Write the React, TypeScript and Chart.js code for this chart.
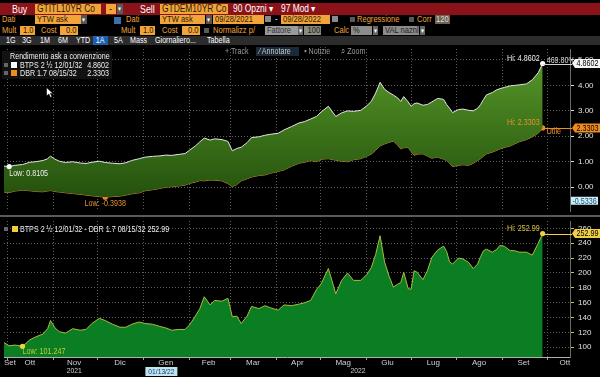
import React, { useEffect, useRef } from 'react';
import { Chart, registerables } from 'chart.js';

Chart.register(...registerables);

const FONT = "'Liberation Sans Narrow', 'Liberation Sans', Arial, sans-serif";
const SX = 0.84;

// ---- data (x = days since 09/28/2021) ----
const dayOffsets = [
  0, 4, 8, 13, 18, 22, 27, 30, 32, 35,
  38, 42, 47, 52, 56, 60, 65, 69, 74, 79,
  83, 87, 92, 96, 101, 106, 110, 114, 119, 123,
  126, 130, 133, 136, 140, 143, 148, 152, 155, 158,
  161, 165, 168, 173, 177, 181, 186, 190, 195, 200,
  204, 208, 212, 215, 220, 225, 229, 233, 237, 242,
  246, 249, 252, 255, 258, 261, 264, 267, 269, 271,
  274, 276, 278, 280, 284, 287, 290, 294, 298, 300,
  302, 304, 308, 311, 315, 318, 321, 323, 325, 327,
  331, 334, 336, 339, 343, 346, 349, 354, 358, 362,
  365,
];

const btpsYield = [
  0.83, 0.8105, 0.86, 0.89, 0.98, 1.0, 1.05, 1.12, 1.22, 1.1,
  1.02, 0.97, 1.0, 0.95, 0.93, 0.98, 1.02, 0.97, 0.94, 0.92,
  0.96, 1.05, 1.12, 1.18, 1.21, 1.23, 1.26, 1.25, 1.29, 1.32,
  1.45, 1.62, 1.78, 1.93, 1.85, 1.9, 1.87, 1.8, 1.43, 1.52,
  1.57, 1.75, 1.95, 1.98, 2.04, 2.08, 2.12, 2.25, 2.38, 2.52,
  2.58, 2.68, 2.78, 2.95, 3.18, 2.78, 2.92, 3.0, 2.98, 3.02,
  3.2, 3.37, 3.7, 4.12, 3.85, 3.72, 3.62, 3.5, 3.37, 3.56,
  3.35, 3.18, 3.28, 3.31, 3.22, 3.25, 3.35, 3.49, 3.45, 3.25,
  3.1, 2.93, 3.05, 3.07, 3.02, 3.0, 3.1, 3.25, 3.45, 3.63,
  3.72, 3.83, 3.87, 3.92, 3.98, 4.0, 4.02, 4.06, 4.22, 4.5,
  4.8602,
];

const dbrYield = [
  -0.19, -0.21, -0.15, -0.12, -0.14, -0.17, -0.18, -0.15, -0.13, -0.17,
  -0.19, -0.22, -0.25, -0.28, -0.31, -0.34, -0.37, -0.3938, -0.37, -0.35,
  -0.31, -0.26, -0.22, -0.14, -0.1, -0.05, 0.0, 0.02, 0.05, 0.08,
  0.15, 0.2, 0.26, 0.25, 0.28, 0.27, 0.25, 0.14, 0.02, 0.1,
  0.25, 0.33, 0.4, 0.46, 0.48, 0.55, 0.62, 0.68, 0.82, 0.94,
  0.98, 1.05, 1.0, 1.1, 1.12, 1.06, 1.02, 1.0, 1.08, 1.12,
  1.22, 1.3, 1.45, 1.62, 1.7, 1.76, 1.81, 1.65, 1.5, 1.55,
  1.56, 1.4, 1.25, 1.3, 1.31, 1.22, 1.14, 1.18, 1.1, 1.05,
  0.95, 0.81, 0.86, 0.88, 0.86, 0.94, 1.05, 1.12, 1.22, 1.31,
  1.38, 1.45, 1.5, 1.56, 1.62, 1.7, 1.78, 1.87, 1.98, 2.12,
  2.3303,
];

const spreadBp = [
  107, 102, 103, 101.247, 110, 114, 118, 125, 136, 126,
  121, 119, 125, 123, 124, 132, 139, 136, 131, 127,
  127, 131, 134, 132, 131, 128, 126, 123, 124, 124,
  130, 142, 152, 168, 157, 163, 162, 166, 141, 142,
  132, 142, 155, 152, 156, 153, 150, 157, 156, 158,
  160, 163, 178, 185, 206, 172, 190, 200, 190, 190,
  198, 207, 225, 250, 215, 196, 181, 185, 187, 201,
  179, 178, 203, 201, 191, 203, 221, 231, 236, 229,
  215, 212, 220, 219, 214, 206, 212, 222, 230, 232,
  228, 232, 237, 236, 230, 230, 228, 228, 224, 240,
  252.99,
];

const monthStartDays = [3, 34, 64, 95, 126, 154, 185, 215, 246, 276, 307, 338, 368];
const monthLabelDays = [4.5, 18, 48, 79, 110, 139, 169, 199, 230, 260, 291, 322, 352, 380];
const monthLabels = ['Set', 'Ott', 'Nov', 'Dic', 'Gen', 'Feb', 'Mar', 'Apr', 'Mag', 'Giu', 'Lug', 'Ago', 'Set', 'Ott'];
const yearLabels = ['2021', '2022'];
const yearLabelDays = [48, 240];
const topTicks = [0, 1, 2, 3, 4, 5];
const bottomTicks = [100, 120, 140, 160, 180, 200, 220, 240, 260];
const crosshairDay = 107;
const crosshairDateText = '01/13/22';
const crosshairValue = -0.5336;
const btpsChangeText = '469.80%';
const dbrNoteText = 'Utile';

const X_MIN = 0.5;
const X_MAX = 383.5;
const TOP_MIN = -0.9363;
const TOP_MAX = 5.4307;
const BOT_MIN = 86.93;
const BOT_MAX = 269.93;

const GRID = '#5e5e5e';
const ORANGE = '#f08c1e';
const ORANGE_T = '#e8922e';
const YELLOW = '#f0d040';
const WHITE_T = '#eeeeee';

function argmin(a: number[]) {
  let k = 0;
  a.forEach((v, i) => { if (v < a[k]) k = i; });
  return k;
}
function argmax(a: number[]) {
  let k = 0;
  a.forEach((v, i) => { if (v > a[k]) k = i; });
  return k;
}

const xTickValues = [...monthStartDays, ...monthLabelDays].sort((a, b) => a - b);
const isMonthStart = (v: any) => monthStartDays.indexOf(v) >= 0;

function xScale(showLabels: boolean) {
  return {
    type: 'linear',
    min: X_MIN,
    max: X_MAX,
    afterBuildTicks: (s: any) => { s.ticks = xTickValues.map((v) => ({ value: v })); },
    afterFit: (s: any) => { s.height = showLabels ? 20 : 0; s.paddingLeft = 0; s.paddingRight = 0; },
    ticks: {
      display: showLabels,
      autoSkip: false,
      maxRotation: 0,
      color: '#d0d0d0',
      font: { family: FONT, size: 8, lineHeight: 1 },
      padding: -1,
      callback: (v: any) => {
        const i = monthLabelDays.indexOf(v);
        return i >= 0 ? monthLabels[i] : '';
      },
    },
    grid: {
      color: (c: any) => (isMonthStart(c.tick?.value) ? GRID : 'rgba(0,0,0,0)'),
      drawTicks: showLabels,
      tickLength: 3,
      tickColor: (c: any) => (isMonthStart(c.tick?.value) ? '#a0a0a0' : 'rgba(0,0,0,0)'),
      tickBorderDash: [],
    },
    border: { display: showLabels, color: '#b0b0b0', dash: [1, 2] },
  };
}

function yScale(min: number, max: number, ticks: number[], digits: number, tickColor: string) {
  return {
    position: 'right',
    min,
    max,
    afterBuildTicks: (s: any) => { s.ticks = ticks.map((v) => ({ value: v })); },
    afterFit: (s: any) => { s.width = 30; s.paddingTop = 0; s.paddingBottom = 0; },
    ticks: {
      color: '#e0e0e0',
      padding: 4,
      font: { family: FONT, size: 8 },
      callback: (v: any) => Number(v).toFixed(digits),
    },
    grid: { color: GRID, tickColor, tickLength: 4, tickBorderDash: [] },
    border: { color: '#6a6a6a', dash: [1, 2] },
  };
}

function markerRadius(arr: number[]) {
  const lo = argmin(arr);
  const hi = argmax(arr);
  return (c: any) => (c.dataIndex === lo || c.dataIndex === hi ? 2.6 : 0);
}

// condensed canvas text
function ctext(ctx: CanvasRenderingContext2D, t: string, x: number, y: number, align: CanvasTextAlign, color: string) {
  ctx.save();
  ctx.translate(x, y);
  ctx.scale(SX, 1);
  ctx.textAlign = align;
  ctx.fillStyle = color;
  ctx.fillText(t, 0, 0);
  ctx.restore();
}

function valueBox(ctx: CanvasRenderingContext2D, x: number, y: number, text: string, bg: string, fg: string) {
  const h = 9;
  const w = 28;
  ctx.fillStyle = bg;
  ctx.beginPath();
  ctx.moveTo(x, y);
  ctx.lineTo(x + 3, y - h / 2);
  ctx.lineTo(x + w, y - h / 2);
  ctx.lineTo(x + w, y + h / 2);
  ctx.lineTo(x + 3, y + h / 2);
  ctx.closePath();
  ctx.fill();
  ctext(ctx, text, x + 3 + (w - 3) / 2, y + 0.5, 'center', fg);
}

function leader(ctx: CanvasRenderingContext2D, x1: number, y: number, x2: number, color: string) {
  ctx.strokeStyle = color;
  ctx.lineWidth = 1;
  ctx.beginPath();
  ctx.moveTo(x1, Math.round(y) + 0.5);
  ctx.lineTo(x2, Math.round(y) + 0.5);
  ctx.stroke();
}

const topAnnotations = {
  id: 'topAnnotations',
  afterDraw(chart: any) {
    const { ctx, chartArea } = chart;
    const b = chart.getDatasetMeta(0).data;
    const d = chart.getDatasetMeta(1).data;
    const loB = argmin(btpsYield);
    const loD = argmin(dbrYield);
    const hiB = argmax(btpsYield);
    const hiD = argmax(dbrYield);
    const ax = chartArea.right;
    ctx.save();
    ctx.font = `8.5px ${FONT}`;
    ctx.textBaseline = 'middle';
    ctext(ctx, `Low: ${btpsYield[loB].toFixed(4)}`, b[loB].x, b[loB].y + 7, 'left', WHITE_T);
    ctext(ctx, `Low: ${dbrYield[loD].toFixed(4)}`, d[loD].x, d[loD].y + 6, 'center', ORANGE_T);
    leader(ctx, b[hiB].x, b[hiB].y, ax + 2, '#d0d0d0');
    leader(ctx, d[hiD].x, d[hiD].y, ax + 2, ORANGE);
    ctext(ctx, `Hi: ${btpsYield[hiB].toFixed(4)}`, b[hiB].x - 3, b[hiB].y - 5, 'right', WHITE_T);
    ctext(ctx, `Hi: ${dbrYield[hiD].toFixed(4)}`, d[hiD].x - 3, d[hiD].y - 5, 'right', ORANGE_T);
    ctext(ctx, btpsChangeText, b[hiB].x + 4, b[hiB].y - 3, 'left', '#d8d8d8');
    ctext(ctx, dbrNoteText, d[hiD].x + 4, d[hiD].y + 4, 'left', ORANGE_T);
    valueBox(ctx, ax + 2, b[hiB].y, btpsYield[hiB].toFixed(4), '#f4f4f4', '#000');
    valueBox(ctx, ax + 2, d[hiD].y, dbrYield[hiD].toFixed(4), ORANGE, '#000');
    const yc = chart.scales.y.getPixelForValue(crosshairValue);
    ctx.fillStyle = '#cdeef6';
    ctx.fillRect(ax + 1, yc - 4, 27, 8);
    ctext(ctx, crosshairValue.toFixed(4), ax + 14.5, yc + 0.5, 'center', '#14507c');
    ctx.restore();
  },
};

const bottomAnnotations = {
  id: 'bottomAnnotations',
  afterDraw(chart: any) {
    const { ctx, chartArea } = chart;
    const s = chart.getDatasetMeta(0).data;
    const lo = argmin(spreadBp);
    const hi = argmax(spreadBp);
    const ax = chartArea.right;
    const xs = chart.scales.x;
    ctx.save();
    ctx.font = `8.5px ${FONT}`;
    ctx.textBaseline = 'middle';
    ctext(ctx, `Low: ${spreadBp[lo].toFixed(3)}`, s[lo].x, s[lo].y + 5, 'left', '#c4c83c');
    leader(ctx, s[hi].x, s[hi].y, ax + 2, YELLOW);
    ctext(ctx, `Hi: ${spreadBp[hi].toFixed(2)}`, s[hi].x - 3, s[hi].y - 5, 'right', '#d8c03c');
    valueBox(ctx, ax + 2, s[hi].y, spreadBp[hi].toFixed(2), YELLOW, '#000');
    ctx.font = `8px ${FONT}`;
    yearLabels.forEach((t, i) => ctext(ctx, t, xs.getPixelForValue(yearLabelDays[i]), 154, 'center', '#d0d0d0'));
    const cx = xs.getPixelForValue(crosshairDay);
    ctx.fillStyle = '#bfe4ef';
    ctx.fillRect(cx - 16, 150, 32, 9);
    ctext(ctx, crosshairDateText, cx, 154.5, 'center', '#1b3f73');
    ctx.restore();
  },
};

function topFill(c: any) {
  const { chart } = c;
  const area = chart.chartArea;
  if (!area) return '#3a7a1a';
  const g = chart.ctx.createLinearGradient(0, area.top, 0, area.bottom);
  g.addColorStop(0, '#5a9c2a');
  g.addColorStop(1, '#1f4a0b');
  return g;
}

function topConfig(): any {
  return {
    type: 'line',
    data: {
      datasets: [
        {
          label: 'BTPS 2 ½ 12/01/32',
          data: dayOffsets.map((x, i) => ({ x, y: btpsYield[i] })),
          borderColor: '#e4e4e4',
          borderWidth: 1,
          fill: '+1',
          backgroundColor: topFill,
          pointRadius: markerRadius(btpsYield),
          pointBackgroundColor: '#ffffff',
          pointBorderWidth: 0,
          tension: 0,
        },
        {
          label: 'DBR 1.7 08/15/32',
          data: dayOffsets.map((x, i) => ({ x, y: dbrYield[i] })),
          borderColor: '#c98c30',
          borderWidth: 1,
          fill: false,
          pointRadius: markerRadius(dbrYield),
          pointBackgroundColor: ORANGE,
          pointBorderWidth: 0,
          tension: 0,
        },
      ],
    },
    options: {
      responsive: false,
      animation: false,
      devicePixelRatio: 1,
      events: [],
      layout: { padding: 0 },
      plugins: { legend: { display: false }, tooltip: { enabled: false } },
      scales: {
        x: xScale(false),
        y: yScale(TOP_MIN, TOP_MAX, topTicks, 2, '#dddddd'),
      },
    },
    plugins: [topAnnotations],
  };
}

function bottomConfig(): any {
  return {
    type: 'line',
    data: {
      datasets: [
        {
          label: 'BTPS 2 ½ 12/01/32 - DBR 1.7 08/15/32',
          data: dayOffsets.map((x, i) => ({ x, y: spreadBp[i] })),
          borderColor: '#aebc3c',
          borderWidth: 1,
          fill: 'start',
          backgroundColor: '#0b7d22',
          pointRadius: markerRadius(spreadBp),
          pointBackgroundColor: YELLOW,
          pointBorderWidth: 0,
          tension: 0,
        },
      ],
    },
    options: {
      responsive: false,
      animation: false,
      devicePixelRatio: 1,
      events: [],
      layout: { padding: 0 },
      plugins: { legend: { display: false }, tooltip: { enabled: false } },
      scales: {
        x: xScale(true),
        y: yScale(BOT_MIN, BOT_MAX, bottomTicks, 0, '#d6c23c'),
      },
    },
    plugins: [bottomAnnotations],
  };
}

type BProps = {
  x: number; y: number; w?: number; h: number; bg?: string; color?: string;
  size?: number; align?: 'left' | 'center' | 'right'; pad?: number; children?: React.ReactNode;
};
function B({ x, y, w, h, bg, color = '#ffffff', size = 9, align = 'left', pad = 0, children }: BProps) {
  return (
    <div
      style={{
        position: 'absolute', left: x, top: y, width: w, height: h, background: bg, color,
        fontSize: size, lineHeight: `${h}px`, textAlign: align, whiteSpace: 'nowrap',
        overflow: w ? 'hidden' : 'visible', paddingLeft: pad, paddingRight: align === 'right' ? 1 : 0,
        boxSizing: 'border-box', fontFamily: FONT,
      }}
    >
      <span style={{ display: 'inline-block', transform: `scaleX(${SX})`, transformOrigin: align }}>{children}</span>
    </div>
  );
}

const OB = '#f2a33a';
const OBT = '#2b1a05';
const OT = '#f0a33a';
const GB = '#8c8c8c';

function Sq({ x, y, s, c }: { x: number; y: number; s: number; c: string }) {
  return <div style={{ position: 'absolute', left: x, top: y, width: s, height: s, background: c }} />;
}

export default function App() {
  const topRef = useRef<HTMLCanvasElement>(null);
  const botRef = useRef<HTMLCanvasElement>(null);

  useEffect(() => {
    const top = new Chart(topRef.current as HTMLCanvasElement, topConfig());
    const bot = new Chart(botRef.current as HTMLCanvasElement, bottomConfig());
    return () => {
      top.destroy();
      bot.destroy();
    };
  }, []);

  return (
    <div style={{ position: 'fixed', left: 0, top: 0, width: 600, height: 377, background: '#000', overflow: 'hidden', fontFamily: FONT }}>
      <canvas ref={topRef} width={600} height={170} style={{ position: 'absolute', left: 0, top: 45 }} />
      <div style={{ position: 'absolute', left: 0, top: 215, width: 600, height: 2, background: '#5a5a5a' }} />
      <canvas ref={botRef} width={600} height={160} style={{ position: 'absolute', left: 0, top: 217 }} />

      {/* row 1 */}
      <div style={{ position: 'absolute', left: 0, top: 3, width: 600, height: 12, background: '#8c121a' }} />
      <B x={12} y={3} h={12} size={10.5}>Buy</B>
      <B x={35} y={4} w={66} h={10} bg={OB} color={OBT} size={10} pad={2}>GTITL10YR Co</B>
      <B x={106} y={4} w={10} h={10} bg={OB} color={OBT} size={10} align="center">-</B>
      <B x={117} y={4} w={6} h={10} bg="#5a5a5a" size={7} align="center">▾</B>
      <B x={140} y={3} h={12} size={10.5}>Sell</B>
      <B x={160} y={4} w={68} h={10} bg={OB} color={OBT} size={10} pad={2}>GTDEM10YR Co</B>
      <B x={233} y={3} h={12} size={10}>90 Opzni ▾</B>
      <B x={281} y={3} h={12} size={10}>97 Mod ▾</B>

      {/* row 2 */}
      <B x={2} y={15} h={9} color={OT}>Dati</B>
      <B x={35} y={15} w={46} h={9} bg={OB} color={OBT} pad={2}>YTW ask</B>
      <B x={81} y={15} w={6} h={9} bg="#555" size={7} align="center">▾</B>
      <Sq x={114} y={17} s={7} c="#3a6fb0" />
      <B x={126} y={15} h={9} color={OT}>Dati</B>
      <B x={160} y={15} w={45} h={9} bg={OB} color={OBT} pad={2}>YTW ask</B>
      <B x={206} y={15} w={6} h={9} bg="#555" size={7} align="center">▾</B>
      <B x={213} y={15} w={51} h={9} bg={OB} color={OBT} pad={2}>09/28/2021</B>
      <Sq x={265} y={16} s={6} c="#8a8a8a" />
      <B x={275} y={15} h={9}>-</B>
      <B x={281} y={15} w={49} h={9} bg={OB} color={OBT} pad={2}>09/28/2022</B>
      <Sq x={332} y={16} s={6} c="#8a8a8a" />
      <Sq x={350} y={17} s={5} c="#5a5a5a" />
      <B x={357} y={15} h={9} color={OT}>Regressione</B>
      <Sq x={409} y={17} s={5} c="#5a5a5a" />
      <B x={417} y={15} h={9} color={OT}>Corr</B>
      <B x={435} y={15} w={15} h={9} bg="#6f6350" color="#dddddd" pad={1}>120</B>

      {/* row 3 */}
      <B x={2} y={25.5} h={9} color={OT}>Mult</B>
      <B x={20} y={25.5} w={15} h={9} bg={OB} color={OBT} align="right">1.0</B>
      <B x={41} y={25.5} h={9} color={OT}>Cost</B>
      <B x={60} y={25.5} w={18} h={9} bg={OB} color={OBT} align="right">0.0</B>
      <B x={121} y={25.5} h={9} color={OT}>Mult</B>
      <B x={140} y={25.5} w={15} h={9} bg={OB} color={OBT} align="right">1.0</B>
      <B x={162} y={25.5} h={9} color={OT}>Cost</B>
      <B x={182} y={25.5} w={18} h={9} bg={OB} color={OBT} align="right">0.0</B>
      <Sq x={204} y={27.5} s={5} c="#5a5a5a" />
      <B x={213} y={25.5} h={9} color={OT}>Normalizz p/</B>
      <B x={265} y={25.5} w={33} h={9} bg="#9a9a9a" color="#333" pad={2}>Fattore</B>
      <B x={298} y={25.5} w={5} h={9} bg="#666" size={7} align="center">▾</B>
      <B x={304} y={25.5} w={17} h={9} bg="#8b8b80" color="#222" align="right">100.0</B>
      <B x={334} y={25.5} h={9} color={OT}>Calc</B>
      <B x={351} y={25.5} w={21} h={9} bg={GB} color="#222" pad={2}>%</B>
      <B x={373} y={25.5} w={5} h={9} bg="#666" size={7} align="center">▾</B>
      <B x={383} y={25.5} w={36} h={9} bg={GB} color="#222" pad={2}>VAL naznl</B>
      <B x={420} y={25.5} w={5} h={9} bg="#666" size={7} align="center">▾</B>

      {/* row 4 */}
      <div style={{ position: 'absolute', left: 0, top: 36, width: 600, height: 9, background: '#2c2c2c' }} />
      <B x={6} y={36} h={9} size={8.5}>1G</B>
      <B x={22} y={36} h={9} size={8.5}>3G</B>
      <B x={40} y={36} h={9} size={8.5}>1M</B>
      <B x={58} y={36} h={9} size={8.5}>6M</B>
      <B x={76} y={36} h={9} size={8.5}>YTD</B>
      <B x={93} y={36} w={15} h={9} bg="#1c5fae" size={8.5} align="center">1A</B>
      <B x={114} y={36} h={9} size={8.5}>5A</B>
      <B x={130} y={36} h={9} size={8.5}>Mass</B>
      <B x={155} y={36} h={9} size={8.5}>Giornaliero...</B>
      <B x={207} y={36} h={9} size={8.5}>Tabella</B>

      {/* row 5 */}
      <B x={225} y={47} h={9} size={8.5} color="#9a9a9a">+ Track</B>
      <B x={256} y={47} w={43} h={9} bg="#1a2a38" size={8.5} color="#c8c8c8" pad={3}>⁄ Annotare</B>
      <B x={304} y={47} h={9} size={8.5} color="#9a9a9a">▪ Notizie</B>
      <B x={341} y={47} h={9} size={8.5} color="#9a9a9a">⌕ Zoom</B>

      {/* top legend */}
      <div style={{ position: 'absolute', left: 2, top: 51, width: 110, height: 28, background: '#121212' }} />
      <B x={10} y={52} h={8} size={8.5} color={WHITE_T}>Rendimento ask a convenzione</B>
      <Sq x={4} y={62.5} s={4} c="#666" />
      <Sq x={11} y={61.5} s={6} c="#ffffff" />
      <B x={20} y={60.5} h={8} size={8.5} color={WHITE_T}>BTPS 2 ½ 12/01/32</B>
      <B x={80} y={60.5} w={30} h={8} size={8.5} color={WHITE_T} align="right">4.8602</B>
      <Sq x={4} y={70.5} s={4} c="#666" />
      <Sq x={11} y={69.5} s={6} c={ORANGE} />
      <B x={20} y={68.5} h={8} size={8.5} color={WHITE_T}>DBR 1.7 08/15/32</B>
      <B x={80} y={68.5} w={30} h={8} size={8.5} color={WHITE_T} align="right">2.3303</B>

      {/* bottom legend */}
      <Sq x={4} y={227} s={4} c="#666" />
      <Sq x={12} y={226} s={6} c="#f2cf3a" />
      <B x={20} y={225} h={8} size={8.5} color={WHITE_T}>BTPS 2 ½ 12/01/32 - DBR 1.7 08/15/32 252.99</B>

      {/* mouse cursor */}
      <svg style={{ position: 'absolute', left: 46, top: 87 }} width="9" height="12">
        <polygon points="0.5,0.5 0.5,9 2.8,7 4.5,10.5 6,9.8 4.4,6.4 7,6.4" fill="#ffffff" stroke="#000" strokeWidth="0.6" />
      </svg>
    </div>
  );
}
